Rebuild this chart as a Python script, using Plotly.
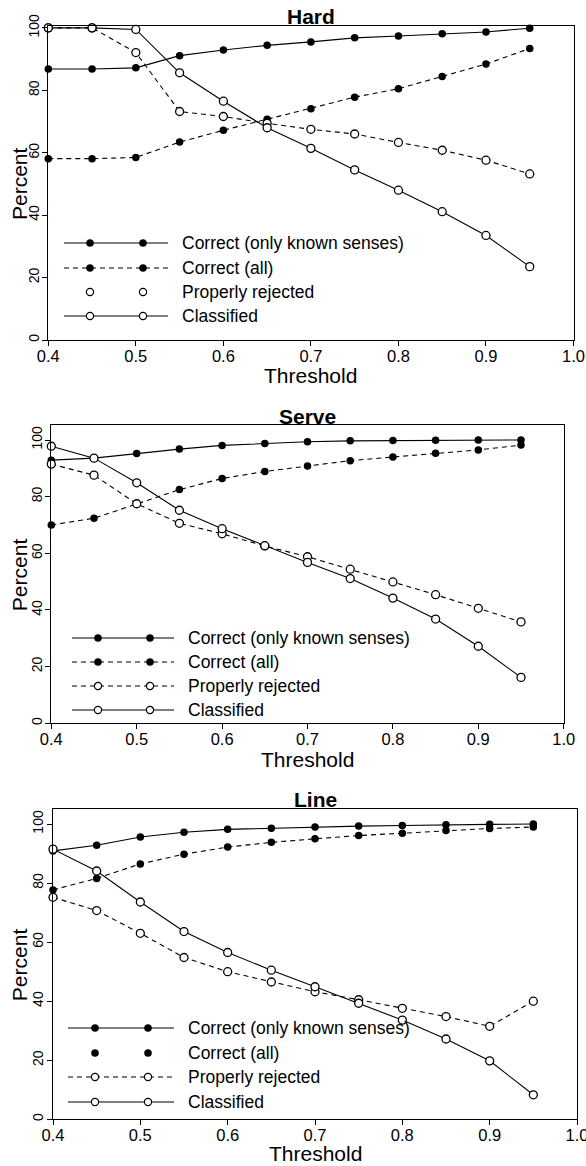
import plotly.graph_objects as go

# ---------------- data ----------------
thresholds = [0.40, 0.45, 0.50, 0.55, 0.60, 0.65, 0.70, 0.75, 0.80, 0.85, 0.90, 0.95]
series_names = ["Correct (only known senses)", "Correct (all)", "Properly rejected", "Classified"]

hard_known = [86.8, 86.8, 87.2, 91.1, 92.9, 94.4, 95.5, 96.8, 97.4, 98.1, 98.7, 99.9]
hard_all = [58.1, 58.1, 58.5, 63.4, 67.2, 70.7, 74.1, 77.8, 80.5, 84.4, 88.4, 93.4]
hard_rejected = [100.0, 100.0, 92.1, 73.2, 71.6, 69.4, 67.5, 66.0, 63.3, 60.8, 57.6, 53.2]
hard_classified = [100.0, 100.0, 99.5, 85.6, 76.5, 68.0, 61.4, 54.5, 48.0, 41.1, 33.5, 23.5]

serve_known = [92.9, 93.6, 95.2, 96.8, 98.1, 98.8, 99.4, 99.7, 99.8, 99.9, 100.0, 100.0]
serve_all = [70.0, 72.4, 77.4, 82.5, 86.4, 88.9, 90.8, 92.7, 94.0, 95.3, 96.5, 98.2]
serve_rejected = [91.5, 87.6, 77.5, 70.6, 66.9, 62.6, 58.8, 54.4, 49.9, 45.4, 40.6, 35.8]
serve_classified = [97.8, 93.6, 84.9, 75.2, 68.7, 62.7, 56.8, 51.1, 44.2, 36.8, 27.2, 16.2]

line_known = [90.9, 92.8, 95.6, 97.2, 98.2, 98.6, 99.0, 99.3, 99.5, 99.8, 99.9, 100.0]
line_all = [77.7, 81.6, 86.5, 89.8, 92.2, 93.8, 95.0, 96.1, 96.9, 97.8, 98.5, 99.0]
line_rejected = [75.2, 70.7, 63.0, 54.8, 50.0, 46.5, 43.2, 40.5, 37.6, 34.8, 31.5, 40.0]
line_classified = [91.5, 84.1, 73.6, 63.6, 56.5, 50.5, 44.9, 39.3, 33.6, 27.2, 19.8, 8.3]

panel_titles = ["Hard", "Serve", "Line"]
x_ticks = [0.4, 0.5, 0.6, 0.7, 0.8, 0.9, 1.0]
x_tick_labels = ["0.4", "0.5", "0.6", "0.7", "0.8", "0.9", "1.0"]
y_ticks = [0, 20, 40, 60, 80, 100]
y_tick_labels = ["0", "20", "40", "60", "80", "100"]
x_title = "Threshold"
y_title = "Percent"

# ---------------- styling / layout ----------------
W, H = 586, 1166
FONT = "Liberation Sans, Arial, Helvetica, sans-serif"
DASH = "5px,4px"
series_dash = ["solid", DASH, DASH, "solid"]
series_filled = [True, True, False, False]


def fx(px):
    return px / W


def fy(py):
    return 1 - py / H


panels = [
    dict(title=panel_titles[0], data=[hard_known, hard_all, hard_rejected, hard_classified],
         box=(48.3, 26.0, 573.5, 340.0), yrange=[0, 100.6], title_y=16.5, xt_y=375,
         leg_rows=[243, 268, 292, 316], leg_line=(64, 168), leg_marks=(90, 143), leg_text=180,
         leg_showline=[True, True, False, True]),
    dict(title=panel_titles[1], data=[serve_known, serve_all, serve_rejected, serve_classified],
         box=(51.3, 425.0, 563.7, 723.3), yrange=[0, 105.3], title_y=416, xt_y=759,
         leg_rows=[638, 662, 686, 710], leg_line=(72, 174), leg_marks=(98, 150), leg_text=186,
         leg_showline=[True, True, True, True]),
    dict(title=panel_titles[2], data=[line_known, line_all, line_rejected, line_classified],
         box=(53.0, 809.0, 577.0, 1119.3), yrange=[0, 105.1], title_y=799, xt_y=1153.5,
         leg_rows=[1028, 1053, 1077, 1102], leg_line=(68, 174), leg_marks=(95, 148), leg_text=186,
         leg_showline=[True, False, True, True]),
]

fig = go.Figure()
shapes = []
annotations = []
layout = dict(
    width=W, height=H,
    margin=dict(l=0, r=0, t=0, b=0),
    paper_bgcolor="white", plot_bgcolor="white",
    showlegend=False,
    font=dict(family=FONT, color="black"),
)

for i, p in enumerate(panels, start=1):
    x0, y0, x1, y1 = p["box"]
    xa, ya = f"x{i}" if i > 1 else "x", f"y{i}" if i > 1 else "y"
    for s, (name, vals) in enumerate(zip(series_names, p["data"])):
        filled = series_filled[s]
        fig.add_trace(go.Scatter(
            x=thresholds, y=vals, name=name, xaxis=xa, yaxis=ya,
            mode="lines+markers",
            line=dict(color="black", width=1.1, dash=series_dash[s]),
            marker=dict(symbol="circle", size=7.5 if filled else 8,
                        color="black" if filled else "white",
                        line=dict(color="black", width=0 if filled else 1.3)),
            cliponaxis=False,
        ))
    xkey = "xaxis" if i == 1 else f"xaxis{i}"
    ykey = "yaxis" if i == 1 else f"yaxis{i}"
    layout[xkey] = dict(
        domain=[fx(x0), fx(x1)], anchor=ya, range=[0.4, 1.0],
        tickvals=x_ticks, ticktext=x_tick_labels,
        ticks="outside", ticklen=5, tickwidth=1, tickcolor="black",
        ticklabelstandoff=-4, ticklabeloverflow="allow",
        showline=True, linecolor="black", linewidth=1.2, mirror=True,
        showgrid=False, zeroline=False, automargin=False,
        tickfont=dict(size=16.5, family=FONT, color="black"),
    )
    layout[ykey] = dict(
        domain=[fy(y1), fy(y0)], anchor=xa, range=p["yrange"],
        tickvals=y_ticks, ticktext=y_tick_labels, tickangle=-90,
        ticks="outside", ticklen=5, tickwidth=1, tickcolor="black",
        ticklabelstandoff=-2, ticklabeloverflow="allow",
        showline=True, linecolor="black", linewidth=1.2, mirror=True,
        showgrid=False, zeroline=False, automargin=False,
        tickfont=dict(size=14, family=FONT, color="black"),
    )
    # right-hand inward ticks
    rkey = f"yaxis{i + 3}"
    layout[rkey] = dict(
        overlaying=ya, side="right", anchor=xa, range=p["yrange"],
        tickvals=y_ticks, showticklabels=False,
        ticks="inside", ticklen=5, tickwidth=1, tickcolor="black",
        showline=False, showgrid=False, zeroline=False,
    )

    cx = (x0 + x1) / 2
    cy = (y0 + y1) / 2
    annotations.append(dict(text=f"<b>{p['title']}</b>", x=fx(cx), y=fy(p["title_y"]),
                            xref="paper", yref="paper", showarrow=False,
                            xanchor="center", yanchor="middle",
                            font=dict(size=21, family=FONT, color="black")))
    annotations.append(dict(text=x_title, x=fx(cx), y=fy(p["xt_y"]),
                            xref="paper", yref="paper", showarrow=False,
                            xanchor="center", yanchor="middle",
                            font=dict(size=21, family=FONT, color="black")))
    annotations.append(dict(text=y_title, x=fx(19), y=fy(cy), textangle=-90,
                            xref="paper", yref="paper", showarrow=False,
                            xanchor="center", yanchor="middle",
                            font=dict(size=21, family=FONT, color="black")))

    # legend drawn as decoration (two markers on a long sample line)
    lx0, lx1 = p["leg_line"]
    for s, name in enumerate(series_names):
        ry = p["leg_rows"][s]
        if p["leg_showline"][s]:
            shapes.append(dict(type="line", xref="paper", yref="paper",
                               x0=fx(lx0), x1=fx(lx1), y0=fy(ry), y1=fy(ry),
                               line=dict(color="black", width=1.1,
                                         dash="solid" if series_dash[s] == "solid" else DASH)))
        for mxp in p["leg_marks"]:
            filled = series_filled[s]
            shapes.append(dict(type="circle", xref="paper", yref="paper",
                               xsizemode="pixel", ysizemode="pixel",
                               xanchor=fx(mxp), yanchor=fy(ry),
                               x0=-3.6, x1=3.6, y0=-3.6, y1=3.6,
                               fillcolor="black" if filled else "white",
                               line=dict(color="black", width=1.2 if not filled else 0.5)))
        annotations.append(dict(text=name, x=fx(p["leg_text"]), y=fy(ry),
                                xref="paper", yref="paper", showarrow=False,
                                xanchor="left", yanchor="middle",
                                font=dict(size=17.5, family=FONT, color="black")))

layout["shapes"] = shapes
layout["annotations"] = annotations
fig.update_layout(**layout)
fig.write_html("out.html",
               config={"displayModeBar": False},
               post_script="document.body.style.margin='0';document.body.style.overflow='hidden';")
